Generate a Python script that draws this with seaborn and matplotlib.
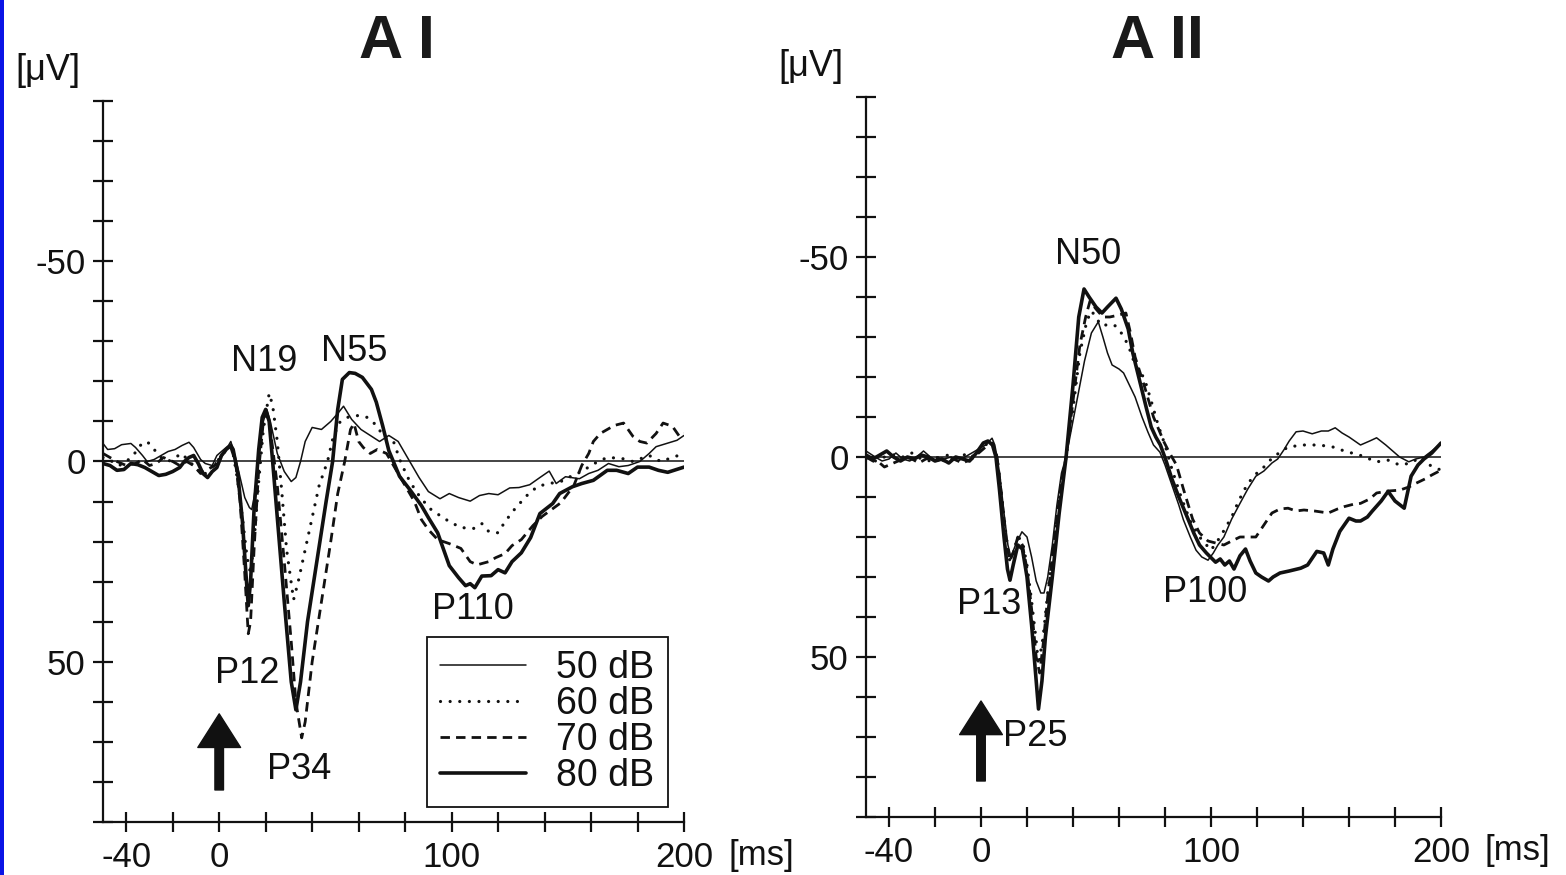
import numpy as np
import pandas as pd
import matplotlib
matplotlib.use("Agg")
import matplotlib.pyplot as plt
from matplotlib import font_manager
from matplotlib.lines import Line2D
from matplotlib.patches import Rectangle
import seaborn as sns

# ---------------- data: auditory evoked potentials (µV, negative up) ----------------
levels = ["50 dB", "60 dB", "70 dB", "80 dB"]

# Panel A I
ai_50_t = [-50, -48, -45, -42, -38, -36, -33, -31, -28, -25, -22, -19, -16, -13, -11, -8, -6, -3, -1,
           2, 4, 5, 7, 9, 11, 13, 14, 15, 17, 19, 20.5, 22, 25, 28, 31, 33, 35, 37, 40, 44, 48, 51,
           53.5, 57, 61, 65, 69, 73, 77, 80, 82, 86, 90, 95, 99, 103, 108, 112, 116, 120, 125, 129,
           133.6, 138, 142, 145, 149, 155, 159, 163, 167.5, 172, 176, 181, 185, 188, 192.5, 197, 200]
ai_50_v = [-4.5, -3, -3.2, -4.2, -4.5, -3.5, -1.5, 0, -0.5, -1.5, -2.5, -3, -4, -4.8, -3.5, -0.5, 0.5, 1, -1.5,
           -3, -4, -5, -1, 4, 9, 11.5, 12, 9, 0, -10, -13, -10, -2, 2.5, 5, 4, 0, -5, -8.5, -8, -10, -12,
           -13.8, -10.5, -8, -6.5, -5, -6.5, -5, -2, 0, 4, 7.5, 9.3, 8, 9, 9.9, 8.5, 8, 8.3, 6.6, 6.5,
           5.8, 4, 2.4, 5.5, 3.8, 4.3, 3, 2.2, 0.5, 1.3, 1, 0, -2, -3.7, -4.5, -5.3, -6.5]

ai_60_t = [-50, -46, -43, -40, -37, -34, -31, -28, -25, -22, -19, -16, -13, -10, -7, -4, -1, 2, 4, 6, 8,
           10, 12, 13.5, 15, 17, 19, 21.5, 23, 25, 27, 29, 32, 34, 37, 40, 43, 46.6, 49, 51.7, 55, 60,
           63.8, 67.7, 71, 75, 78, 82, 86, 90.5, 95, 99, 104, 109.5, 113, 116, 120, 123, 127, 132, 137,
           142, 147, 152, 156, 160, 163, 167, 173, 178, 185, 190, 195, 200]
ai_60_v = [-1, 0, 1, 0, -1.5, -4, -5, -3, -1, 0, -1, -2, 0, 1.5, 3.5, 2, 0, -2, -4, -2, 5,
           14, 24, 28, 20, 5, -8, -17, -14, -5, 8, 22, 34.5, 30, 22, 14, 6, 0, -6, -9.7, -11, -11.5,
           -11, -9, -6, -5, 0, 5, 8.5, 11.7, 13.5, 15, 16.5, 16.7, 15.5, 17.5, 17.8, 15, 12, 8.7, 6.2,
           5.5, 5, 3.5, 2.5, 1, 0, -1, -0.8, 0, -1.5, 0, -1, -2]

ai_70_t = [-50, -47, -44, -40, -36, -33, -30, -27, -24, -20, -17, -14, -11, -8, -5, -2, 1, 3, 5, 7, 9,
           11, 12.5, 13.5, 15, 17, 19, 20.5, 22, 25, 28, 31, 33, 35.5, 37, 40, 44, 48, 51, 54, 56.5,
           58, 60, 62, 65, 68, 72, 76, 80, 84, 87, 90, 94, 99, 104, 108, 111, 116, 119, 123, 126, 130,
           135, 139, 143, 147, 150, 152.6, 156, 159, 161, 164, 167, 170, 174, 178, 181, 184, 188, 191,
           195, 198, 200]
ai_70_v = [-2, -1, 0, 1, 0.5, -0.5, 1, 0.5, -1, 0, 1, 0, 1, 3, 2, 1, -1.5, -3, -3.5, 0, 10,
           28, 43, 40, 22, 2, -10, -12, -8, 6, 25, 45, 60, 69, 65, 50, 35, 20, 8, 0, -8,
           -9.5, -5, -3.5, -2, -3, -2, 2, 6, 10, 14.5, 17, 19.5, 20.5, 21.7, 25, 25.8, 25, 24, 23, 21, 19.5,
           16, 13.7, 12, 10.3, 8, 6, 1, -2, -5, -7, -8, -9, -9.6, -6.3, -5, -4.6, -7, -9.6,
           -8.8, -6.3, -7]

ai_80_t = [-50, -47, -44, -41, -38, -35, -32, -29, -26, -23, -20, -17, -15, -13, -11, -9, -7, -5, -3, -1,
           1, 3, 5, 6, 8, 10, 11.5, 12.5, 13.5, 15, 17, 18.5, 20, 21.5, 23, 25, 28, 31, 33, 35, 38, 42,
           46, 48.8, 51, 53, 56, 58.5, 61.6, 65.5, 67.6, 70.3, 73, 77.6, 82, 87, 90, 94, 99, 103, 106,
           108, 110, 113, 117, 120, 123, 126, 130, 134, 138, 143.5, 146.5, 152, 156, 161, 167, 171,
           176, 180, 185, 189, 193, 200]
ai_80_v = [0.5, 1, 2.2, 2, 0.5, 0.8, 1.5, 2.5, 3.5, 3.2, 2.5, 1.5, 0, -1, -1.5, 0.5, 3, 4, 2.5, 1.5,
           -1.5, -3, -4, -3, 3, 15, 28, 36, 30, 12, -3, -11, -13, -10, 0, 14, 35, 55, 62, 55, 40, 25,
           10, 0, -13, -20.5, -22.2, -22, -21, -18, -14.8, -9, -2.7, 3.7, 7, 11, 14, 17.8, 26, 29, 31,
           30.5, 31.5, 28.6, 28.5, 27, 27.8, 25, 22.8, 19, 13, 10.5, 8, 6.3, 5.5, 4.7, 2.2, 2.2,
           3, 1.4, 1.4, 2.2, 2.7, 1.4]

# Panel A II
aii_50_t = [-50, -46, -43, -40, -37, -34, -31, -28, -25, -22, -19, -16, -13, -10, -7, -4, -1, 2, 4.8, 6,
            7, 8.3, 10, 11.7, 13, 15, 17.8, 20, 22, 24, 26, 27.4, 29, 31, 33, 35, 37, 39, 42, 45, 48,
            51, 53, 55, 57, 60, 62, 64.5, 67, 70, 72.6, 75, 77.8, 80, 83, 86, 88, 91, 93.5, 96, 98.7,
            101, 103, 105.6, 109, 112.6, 116, 119.5, 123, 126.5, 129, 131.7, 134, 137, 140, 144, 148,
            151, 154, 157, 160, 165, 169, 172, 176, 179, 182, 186, 189, 192.6, 196, 200]
aii_50_v = [-1.5, 0, 1, 0.5, -1, 0.5, 1, 0, -1.5, 0, 1, 0.5, 0, 1, 0, -1, -2, -3, -4.7, -3,
            0, 5, 14, 22, 25, 22, 18.7, 20, 25, 31, 34, 34, 30, 22, 12, 4, 0, -6, -15, -24, -31,
            -33.8, -30, -26, -23, -22, -21, -18, -15, -10, -6.2, -3, -1.2, 2, 7, 12, 15.7, 20, 23.3, 25, 25.8,
            24, 22, 20, 15.5, 11.6, 8, 4.8, 3.5, 1.5, 0.5, -1.8, -4, -6.3, -6.5, -5.8, -6.5,
            -6.5, -7.3, -6, -5, -3, -4, -4.8, -3, -1.5, 0, 1.2, 0.5, 0, -1.5, -3.5]

aii_60_t = [-50, -46, -42, -38, -34, -30, -26, -22, -18, -14, -10, -6, -3, 0, 3, 5, 7, 9, 11, 12.5, 14,
            16, 18, 20, 22, 24, 25, 27, 29, 32, 35, 37, 40, 43, 46, 48, 50, 52, 55, 58, 61, 64, 67,
            71, 74, 77, 80, 83, 87, 91, 95, 100, 104, 109, 112, 116, 120, 123, 127, 133.5, 140, 147,
            153, 158, 165, 172, 177, 182, 187, 191, 195, 200]
aii_60_v = [0.5, 1, 0, -0.5, 0, -1, 0.5, 1, 0, -0.5, 0.5, -1, 0, -2, -3.5, -3.5, 0, 10, 20, 26, 24,
            20, 21, 27, 36, 46, 52, 45, 34, 20, 6, 0, -12, -26, -34, -36.5, -35, -33, -33, -33, -31, -28, -23,
            -19.7, -14, -8, -3, 3, 10, 16, 20, 23.3, 20, 15, 11, 6.6, 4, 2.5, 0, -2.5, -3, -3,
            -2.5, -1.5, -0.4, 1.2, 0.8, 2, 1.5, 0, 2, 3.3]

aii_70_t = [-50, -47, -44, -42, -40, -36, -33, -30, -27, -24, -20, -16, -12, -8, -4, 0, 3, 5, 7, 9, 11,
            12.5, 14, 16, 18, 20, 22, 24, 25.5, 27, 29, 32, 35, 37, 40, 43, 45.5, 47.4, 50, 53, 56, 60,
            63, 65, 67, 71, 75, 79.6, 82, 85, 88, 92, 95, 98.7, 102, 105.6, 109, 112.6, 116, 119.5,
            123, 126.5, 130, 133.5, 137, 140.4, 145, 151, 155, 158, 162, 165, 169, 172, 177, 182, 186,
            189, 193, 196, 200]
aii_70_v = [0, 1, 1.5, 2.5, 2, 1, 0, 0.5, 1.5, 0.5, 0, 1, 0.5, 1.5, 0.5, -1.5, -3, -3.5, 0, 10, 21,
            26, 24, 20, 22, 28, 38, 50, 54, 47, 35, 20, 6, 0, -14, -28, -35, -39, -37, -35, -35, -35.5,
            -36, -31, -25, -17.8, -10, -3.7, -1, 2, 8, 15.5, 19, 21, 21.5, 22, 21, 20, 20, 20,
            17, 14, 13, 12.8, 13.5, 13.25, 13.5, 14, 13, 12.4, 11.8, 11.6, 10.5, 9, 8.5, 8.3, 7.5,
            6.6, 5.5, 4.5, 3.3]

aii_80_t = [-50, -47, -44, -41, -38, -35, -32, -29, -26, -23, -20, -17, -14, -11, -8, -5, -2, 1, 3, 5,
            6.5, 8, 10, 11.5, 12.6, 14, 16, 18, 20, 22, 24, 25, 26.5, 28, 31, 34, 37, 40, 42.5, 44.8,
            47, 50, 52.6, 55, 58.7, 61, 64, 66, 69, 72, 74, 76, 78, 80.5, 83, 86, 90, 92.5, 95, 98,
            102, 104, 106, 108, 110, 112.6, 115, 117, 119.5, 122, 125, 127, 130, 134, 139, 142, 146,
            149, 151, 153, 156, 160, 163, 165, 168, 170, 174, 177, 180, 184, 187, 190, 192.6, 196, 200]
aii_80_v = [-0.5, 0.5, -0.5, -1.5, 0, 1, 0, 0.5, -0.5, 0, 1, 0.5, 1.5, 0, 0.5, 1, -1, -3.5, -4, -3,
            0, 8, 20, 28, 30.8, 27, 22, 23, 30, 42, 56, 63, 56, 45, 30, 14, 0, -18, -35, -42,
            -40, -37.5, -36, -37.5, -39.7, -37, -32, -26, -19, -12, -7.5, -5, -3, 1, 5.5, 10, 15.5, 19, 22, 24,
            26.3, 25.5, 27, 26, 28, 24.7, 23, 26, 29, 30, 31, 30, 29, 28.5, 27.8, 27, 23.6,
            24, 27, 23, 18.6, 15.3, 16, 16, 15, 13.6, 11, 8.6, 11, 12.8, 4.8, 2, 0.5, -1, -3.5]

# Component labels: (text, latency ms, amplitude µV)
ai_peaks = [("N19", 19.5, -25), ("N55", 58, -27.5), ("P12", 12, 53), ("P34", 34.5, 77), ("P110", 109, 37)]
aii_peaks = [("N50", 46.5, -50.5), ("P13", 3.5, 37), ("P25", 23.5, 70), ("P100", 97.5, 34)]

# ---------------- style ----------------
sns.set_style("ticks")
names = {f.name for f in font_manager.fontManager.ttflist}
base_font = "Liberation Sans Narrow" if "Liberation Sans Narrow" in names else "Liberation Sans"
plt.rcParams["font.family"] = [base_font, "Liberation Sans", "DejaVu Sans"]
plt.rcParams["text.color"] = "#111111"

INK = "#111111"
line_styles = {
    "50 dB": dict(linewidth=1.1, linestyle="-"),
    "60 dB": dict(linewidth=2.3, linestyle=(0, (0.01, 3.0)), dash_capstyle="round"),
    "70 dB": dict(linewidth=2.0, linestyle=(0, (3.4, 2.2)), dash_capstyle="butt"),
    "80 dB": dict(linewidth=2.6, linestyle="-"),
}

fig = plt.figure(figsize=(15.66, 8.75), dpi=100)
fig.patch.set_facecolor("white")
ax1 = fig.add_axes([103 / 1566, 1 - 822 / 875, 581 / 1566, 721 / 875])
ax2 = fig.add_axes([866 / 1566, 1 - 817 / 875, 575 / 1566, 720 / 875])

panels = [
    (ax1, "A I", 397, [(ai_50_t, ai_50_v), (ai_60_t, ai_60_v), (ai_70_t, ai_70_v), (ai_80_t, ai_80_v)],
     ai_peaks, 63, 82),
    (ax2, "A II", 1157, [(aii_50_t, aii_50_v), (aii_60_t, aii_60_v), (aii_70_t, aii_70_v), (aii_80_t, aii_80_v)],
     aii_peaks, 61, 81),
]

for ax, title, title_x, series, peaks, arrow_tip, arrow_base in panels:
    ax.axhline(0, color=INK, linewidth=1.1, zorder=1)
    for lvl, (t, v) in zip(levels, series):
        df = pd.DataFrame({"ms": t, "uv": v})
        sns.lineplot(data=df, x="ms", y="uv", ax=ax, color=INK, estimator=None,
                     errorbar=None, sort=False, zorder=3, **line_styles[lvl])

    ax.set_xlim(-50, 200)
    ax.set_ylim(90, -90)
    ax.set_xlabel("")
    ax.set_ylabel("")

    xt = np.arange(-40, 201, 20)
    ax.set_xticks(xt)
    ax.set_xticklabels([str(v) if v in (-40, 0, 100, 200) else "" for v in xt])
    yt = np.arange(-90, 91, 10)
    ax.set_yticks(yt)
    ax.set_yticklabels([str(v) if v in (-50, 0, 50) else "" for v in yt])
    ax.tick_params(direction="inout", length=15, width=1.6, color=INK, labelsize=25,
                   labelcolor=INK)
    ax.tick_params(axis="y", pad=5)
    ax.tick_params(axis="x", pad=6)
    for side in ("top", "right"):
        ax.spines[side].set_visible(False)
    for side in ("left", "bottom"):
        ax.spines[side].set_linewidth(1.6)
        ax.spines[side].set_color(INK)

    for txt, x, y in peaks:
        ax.text(x, y, txt, fontsize=26, ha="center", va="center", color=INK)

    # stimulus onset marker
    ax.annotate("", xy=(0, arrow_tip), xytext=(0, arrow_base),
                arrowprops=dict(arrowstyle="simple,head_length=1.1,head_width=1.4,tail_width=0.28",
                                mutation_scale=22, color=INK, shrinkA=0, shrinkB=0))

    ax.text(-0.095, 1.042, "[μV]", transform=ax.transAxes, fontsize=26, ha="center",
            va="center", color=INK)
    ax.text(219, -0.046, "[ms]", transform=ax.get_xaxis_transform(), fontsize=25,
            ha="left", va="center", color=INK)

    fig.text(title_x / 1566, 1 - 42 / 875, title, fontsize=44, fontweight="bold",
             family=["Liberation Sans", "DejaVu Sans"], ha="center", va="center", color="#1a1a1a")

handles = [Line2D([0], [0], color=INK, **line_styles[l]) for l in levels]
leg = ax1.legend(handles, levels, loc="upper right", bbox_to_anchor=(0.972, 0.257),
                 borderaxespad=0, fontsize=27, frameon=True, fancybox=False,
                 handlelength=2.3, handletextpad=0.8, labelspacing=0.0,
                 borderpad=0.35, labelcolor=INK)
leg.get_frame().set_edgecolor(INK)
leg.get_frame().set_linewidth(1.3)
leg.get_frame().set_alpha(1)

fig.patches.append(Rectangle((0, 0), 4 / 1566, 1, transform=fig.transFigure,
                             facecolor="#0a14e6", edgecolor="none"))

fig.savefig("out.png", dpi=100)
